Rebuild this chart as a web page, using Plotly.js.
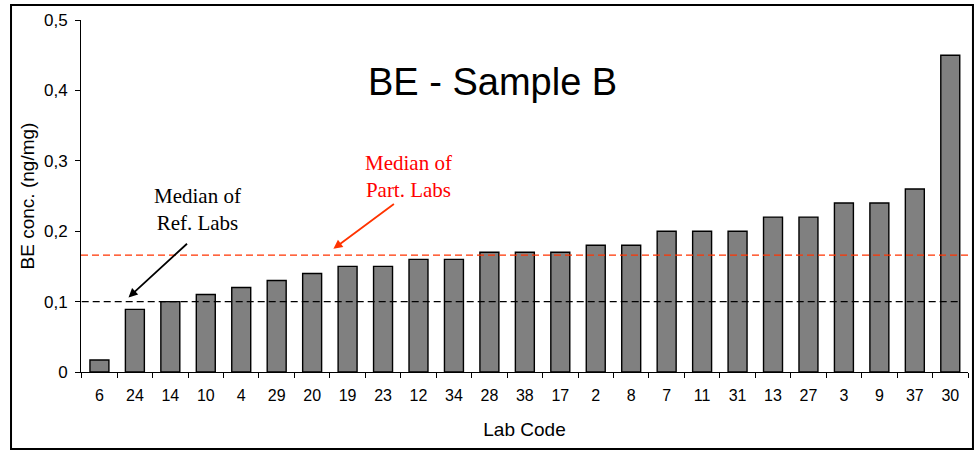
<!DOCTYPE html>
<html>
<head>
<meta charset="utf-8">
<script src="https://cdn.plot.ly/plotly-3.0.1.min.js"></script>
<style>
  html, body { margin: 0; padding: 0; background: #fff; }
  #chart { width: 976px; height: 451px; }
</style>
</head>
<body>
<div id="chart"></div>
<script>
// Lab codes, sorted by result
const labCodes = ['6', '24', '14', '10', '4', '29', '20', '19', '23', '12', '34', '28', '38',
                  '17', '2', '8', '7', '11', '31', '13', '27', '3', '9', '37', '30'];
const beConc = [0.017, 0.089, 0.10, 0.11, 0.12, 0.13, 0.14, 0.15, 0.15, 0.16, 0.16, 0.17, 0.17,
                0.17, 0.18, 0.18, 0.20, 0.20, 0.20, 0.22, 0.22, 0.24, 0.24, 0.26, 0.45];

// Medians
const medianRefLabs = 0.10;
const medianPartLabs = 0.166;

// Y axis ticks
const yTickVals = [0, 0.1, 0.2, 0.3, 0.4, 0.5];
const yTickText = ['0', '0,1', '0,2', '0,3', '0,4', '0,5'];

const trace = {
    x: labCodes,
    y: beConc,
    type: 'bar',
    marker: {
        color: '#808080',
        line: { color: '#000000', width: 1.4 }
    },
    hoverinfo: 'x+y'
};

const lastIdx = labCodes.length - 1;
const serif = 'Liberation Serif, Times New Roman, serif';

const layout = {
    width: 976,
    height: 451,
    paper_bgcolor: '#ffffff',
    plot_bgcolor: '#ffffff',
    showlegend: false,
    bargap: 0.465,
    margin: { l: 81, r: 8, t: 20, b: 79, pad: 0 },
    font: { family: 'Liberation Sans, Arial, sans-serif', color: '#000' },
    xaxis: {
        type: 'category',
        showline: true,
        linecolor: '#000',
        linewidth: 1,
        ticks: 'outside',
        tickson: 'boundaries',
        ticklen: 5,
        tickcolor: '#000',
        tickfont: { size: 16 },
        ticklabelstandoff: 9,
        showgrid: false,
        zeroline: false,
        title: { text: 'Lab Code', font: { size: 19 }, standoff: 19 }
    },
    yaxis: {
        range: [0, 0.5],
        showline: true,
        linecolor: '#000',
        linewidth: 1,
        ticks: 'outside',
        ticklen: 5,
        tickcolor: '#000',
        tickvals: yTickVals,
        ticktext: yTickText,
        tickfont: { size: 17 },
        ticklabelstandoff: 4,
        showgrid: false,
        zeroline: false,
        title: { text: 'BE conc. (ng/mg)', font: { size: 19 }, standoff: 4 }
    },
    shapes: [
        // outer frame
        {
            type: 'rect', xref: 'paper', yref: 'paper',
            x0: -0.0789, x1: 1.0056, y0: -0.2188, y1: 1.0426,
            line: { color: '#000', width: 2 }
        },
        // median of reference labs
        {
            type: 'line', xref: 'x', yref: 'y',
            x0: -0.5, x1: lastIdx + 0.22, y0: medianRefLabs, y1: medianRefLabs,
            line: { color: '#000', width: 1.4, dash: '7px,4px' }
        },
        // median of participating labs
        {
            type: 'line', xref: 'paper', yref: 'y',
            x0: 0, x1: 1, y0: medianPartLabs, y1: medianPartLabs,
            line: { color: '#ff3300', width: 1.4, dash: '7px,4px' }
        }
    ],
    annotations: [
        {
            text: 'BE - Sample B',
            xref: 'paper', yref: 'paper', x: 0.464, y: 0.824,
            xanchor: 'center', yanchor: 'middle',
            showarrow: false,
            font: { size: 38 }
        },
        // Ref. labs label + arrow
        {
            text: 'Median of<br>Ref. Labs',
            xref: 'x', yref: 'y', x: 2.77, y: 0.231,
            xanchor: 'center', yanchor: 'middle',
            showarrow: false,
            font: { size: 21, family: serif, color: '#000' }
        },
        {
            text: '',
            xref: 'x', yref: 'y', x: 0.82, y: 0.106,
            ax: 60, ay: -55,
            showarrow: true, arrowhead: 2, arrowsize: 1, arrowwidth: 1.8, arrowcolor: '#000'
        },
        // Part. labs label + arrow
        {
            text: 'Median of<br>Part. Labs',
            xref: 'x', yref: 'y', x: 8.72, y: 0.2777,
            xanchor: 'center', yanchor: 'middle',
            showarrow: false,
            font: { size: 21, family: serif, color: '#ff0000' }
        },
        {
            text: '',
            xref: 'x', yref: 'y', x: 6.6, y: 0.175,
            ax: 62, ay: -46,
            showarrow: true, arrowhead: 2, arrowsize: 1, arrowwidth: 1.8, arrowcolor: '#ff3300'
        }
    ]
};

const config = { displayModeBar: false, responsive: false };

Plotly.newPlot('chart', [trace], layout, config);
</script>
</body>
</html>
